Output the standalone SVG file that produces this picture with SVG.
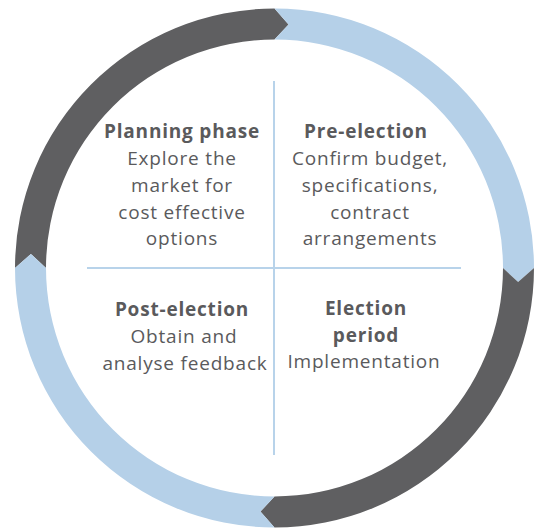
<svg xmlns="http://www.w3.org/2000/svg" width="537" height="529" viewBox="0 0 537 529">
  <style>
    .dark { fill: #5f5f61; }
    .light { fill: #b5d0e8; }
    .rule { stroke: #b8d3ea; stroke-width: 2; fill: none; }
    text { font-family: "Open Sans", "Noto Sans", "Liberation Sans", sans-serif; font-size: 19px; letter-spacing: 0.8px; fill: #5a5a5c; text-anchor: middle; }
    .head { font-weight: bold; }
  </style>
  <rect width="537" height="529" fill="#ffffff"/>

  <!-- cycle ring: four quarter arcs, each ending in a chevron point -->
  <g id="ring">
    <path id="arc-planning" class="dark" d="M 15 268 A 259.5 259.5 0 0 1 274.5 8.5 L 288.54 24.4 L 274.5 39.5 A 228.5 228.5 0 0 0 46 268 L 30.9 253.96 Z"/>
    <path id="arc-pre" class="light" d="M 274.5 8.5 A 259.5 259.5 0 0 1 534 268 L 518.1 282.04 L 503 268 A 228.5 228.5 0 0 0 274.5 39.5 L 288.54 24.4 Z"/>
    <path id="arc-election" class="dark" d="M 534 268 A 259.5 259.5 0 0 1 274.5 527.5 L 260.46 511.6 L 274.5 496.5 A 228.5 228.5 0 0 0 503 268 L 518.1 282.04 Z"/>
    <path id="arc-post" class="light" d="M 274.5 527.5 A 259.5 259.5 0 0 1 15 268 L 30.9 253.96 L 46 268 A 228.5 228.5 0 0 0 274.5 496.5 L 260.46 511.6 Z"/>
  </g>

  <!-- quadrant dividers -->
  <g id="dividers">
    <line class="rule" x1="274" y1="81" x2="274" y2="455"/>
    <line class="rule" x1="87" y1="268" x2="461" y2="268"/>
  </g>

  <g id="planning-phase">
    <text class="head" x="182" y="138">Planning phase</text>
    <text x="182" y="165">Explore the</text>
    <text x="182" y="192">market for</text>
    <text x="182" y="219">cost effective</text>
    <text x="182" y="245">options</text>
  </g>

  <g id="pre-election">
    <text class="head" x="366" y="138">Pre-election</text>
    <text x="370" y="165">Confirm budget,</text>
    <text x="370" y="192">specifications,</text>
    <text x="370" y="219">contract</text>
    <text x="370" y="245">arrangements</text>
  </g>

  <g id="post-election">
    <text class="head" x="182" y="316">Post-election</text>
    <text x="184" y="343">Obtain and</text>
    <text x="185" y="370">analyse feedback</text>
  </g>

  <g id="election-period">
    <text class="head" x="366" y="315">Election</text>
    <text class="head" x="366" y="342">period</text>
    <text x="364" y="368">Implementation</text>
  </g>
</svg>
